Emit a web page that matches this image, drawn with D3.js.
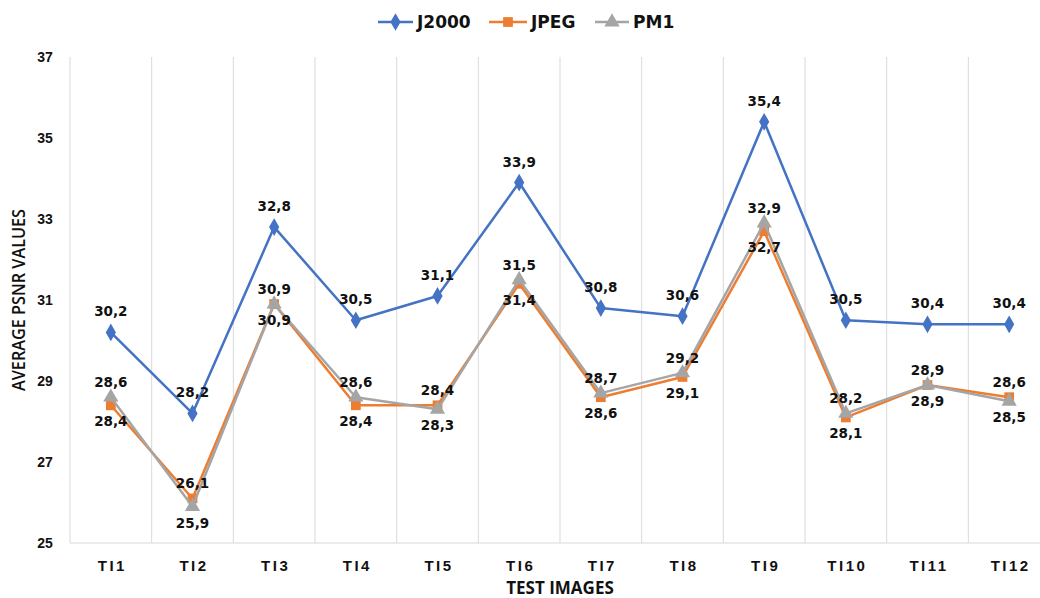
<!DOCTYPE html>
<html>
<head>
<meta charset="utf-8">
<script src="https://cdn.jsdelivr.net/npm/d3@7"></script>
<style>
  html, body { margin: 0; padding: 0; background: #fff; }
  svg { display: block; }
</style>
</head>
<body>
<svg id="chart" width="1040" height="598"></svg>
<script>
// Test images and average PSNR per codec
const categories = ["TI1","TI2","TI3","TI4","TI5","TI6","TI7","TI8","TI9","TI10","TI11","TI12"];
const j2000 = [30.2, 28.2, 32.8, 30.5, 31.1, 33.9, 30.8, 30.6, 35.4, 30.5, 30.4, 30.4];
const jpeg  = [28.4, 26.1, 30.9, 28.4, 28.4, 31.4, 28.6, 29.1, 32.7, 28.1, 28.9, 28.6];
const pm1   = [28.6, 25.9, 30.9, 28.6, 28.3, 31.5, 28.7, 29.2, 32.9, 28.2, 28.9, 28.5];
const yTicks = [25, 27, 29, 31, 33, 35, 37];

// which value labels sit above the point (true) or below it (false)
const jpegLabelAbove = [false, true, true, false, true, false, false, false, false, false, true, true];
const pm1LabelAbove  = [true, false, false, true, false, true, true, true, true, true, false, false];

const svg = d3.select("#chart");
const plotLeft = 70, plotRight = 1050, plotTop = 57, plotBottom = 543;

const x = d3.scaleBand().domain(categories).range([plotLeft, plotRight]);
const y = d3.scaleLinear().domain([25, 37]).range([plotBottom, plotTop]);

const grid = "#d9d9d9";

// vertical gridlines at category boundaries
const bounds = categories.map(c => x(c)).concat([plotRight]);
svg.append("g").selectAll("line").data(bounds).join("line")
  .attr("x1", d => d).attr("x2", d => d)
  .attr("y1", plotTop).attr("y2", plotBottom)
  .attr("stroke", grid).attr("stroke-width", 1);

// baseline
svg.append("line")
  .attr("x1", plotLeft).attr("x2", plotRight)
  .attr("y1", plotBottom).attr("y2", plotBottom)
  .attr("stroke", grid).attr("stroke-width", 1);

// y tick labels
svg.append("g").selectAll("text").data(yTicks).join("text")
  .attr("x", 45).attr("y", d => y(d) + 5)
  .attr("text-anchor", "middle")
  .attr("font-family", "Liberation Sans").attr("font-weight", "bold")
  .attr("font-size", 14).attr("fill", "#111")
  .text(d => d);

// x tick labels
svg.append("g").selectAll("text").data(categories).join("text")
  .attr("x", d => x(d) + x.bandwidth() / 2 + 1.5).attr("y", 571)
  .attr("text-anchor", "middle")
  .attr("font-family", "Liberation Sans").attr("font-weight", "bold")
  .attr("font-size", 15).attr("letter-spacing", "2.5px").attr("fill", "#111")
  .text(d => d);

// axis titles
svg.append("text")
  .attr("x", (plotLeft + plotRight) / 2).attr("y", 594)
  .attr("text-anchor", "middle")
  .attr("font-family", "Open Sans").attr("font-weight", "bold")
  .attr("font-size", 17).attr("fill", "#111")
  .text("TEST IMAGES");

svg.append("text")
  .attr("transform", "translate(25,300) rotate(-90)")
  .attr("text-anchor", "middle")
  .attr("font-family", "Open Sans").attr("font-weight", 600)
  .attr("font-size", 18).attr("fill", "#111")
  .attr("textLength", 182).attr("lengthAdjust", "spacingAndGlyphs")
  .text("AVERAGE PSNR VALUES");

const series = [
  { name: "J2000", values: j2000, color: "#4472C4", symbol: d3.symbolDiamond, size: 90, above: j2000.map(() => true) },
  { name: "JPEG",  values: jpeg,  color: "#ED7D31", symbol: d3.symbolSquare,  size: 95, above: jpegLabelAbove },
  { name: "PM1",   values: pm1,   color: "#A5A5A5", symbol: d3.symbolTriangle, size: 100, above: pm1LabelAbove }
];

const cx = i => x(categories[i]) + x.bandwidth() / 2;

const line = d3.line()
  .x((d, i) => cx(i))
  .y(d => y(d));

series.forEach(s => {
  const g = svg.append("g");
  g.append("path")
    .datum(s.values)
    .attr("d", line)
    .attr("fill", "none")
    .attr("stroke", s.color)
    .attr("stroke-width", 2.5)
    .attr("stroke-linejoin", "round");
  g.selectAll("path.m").data(s.values).join("path")
    .attr("class", "m")
    .attr("d", d3.symbol().type(s.symbol).size(s.size))
    .attr("transform", (d, i) => `translate(${cx(i)},${y(d)})`)
    .attr("fill", s.color);
});

// value labels, formatted with a decimal comma
const fmt = v => d3.format(".1f")(v).replace(".", ",");
series.forEach(s => {
  svg.append("g").selectAll("text").data(s.values).join("text")
    .attr("x", (d, i) => cx(i))
    .attr("y", (d, i) => {
      if (s.name === "J2000") return y(d) - 16;
      return s.above[i] ? y(d) - 10 : y(d) + 21;
    })
    .attr("text-anchor", "middle")
    .attr("font-family", "DejaVu Sans").attr("font-weight", "bold")
    .attr("font-size", 13.5).attr("fill", "#111")
    .text(d => fmt(d));
});

// legend
const legendItems = [
  { s: series[0], x0: 378, x1: 413, tx: 417 },
  { s: series[1], x0: 489, x1: 527, tx: 531 },
  { s: series[2], x0: 595, x1: 629, tx: 633 }
];
const lg = svg.append("g");
legendItems.forEach(it => {
  lg.append("line")
    .attr("x1", it.x0).attr("x2", it.x1).attr("y1", 22).attr("y2", 22)
    .attr("stroke", it.s.color).attr("stroke-width", 2.5);
  lg.append("path")
    .attr("d", d3.symbol().type(it.s.symbol).size(it.s.size)())
    .attr("transform", `translate(${(it.x0 + it.x1) / 2},22)`)
    .attr("fill", it.s.color);
  lg.append("text")
    .attr("x", it.tx).attr("y", 28)
    .attr("font-family", "DejaVu Sans").attr("font-weight", "bold")
    .attr("font-size", 17).attr("fill", "#111")
    .text(it.s.name);
});
</script>
</body>
</html>
